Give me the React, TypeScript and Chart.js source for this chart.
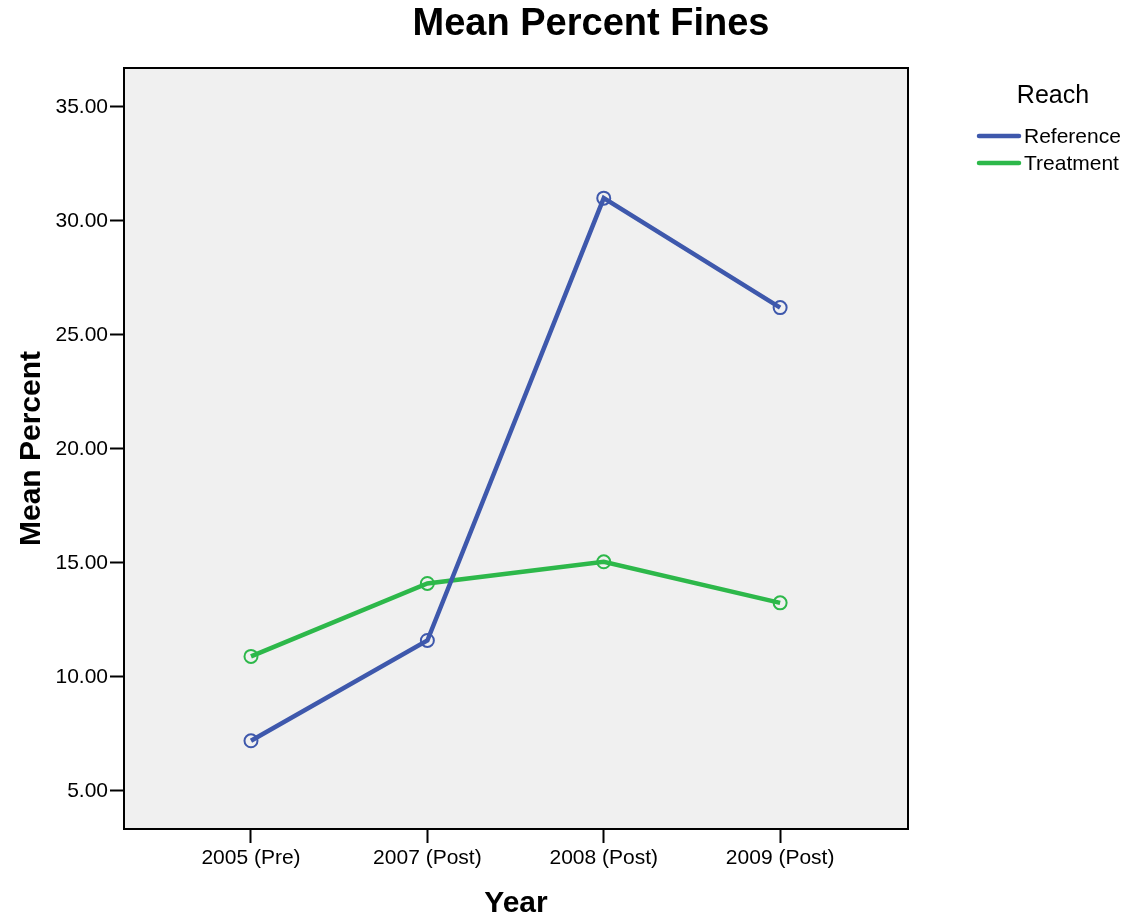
import React, { useEffect, useRef } from "react";
import { Chart, registerables } from "chart.js";

Chart.register(...registerables);

const categories = ["2005 (Pre)", "2007 (Post)", "2008 (Post)", "2009 (Post)"];
const referenceValues = [7.2, 11.6, 31.0, 26.2];
const treatmentValues = [10.9, 14.1, 15.05, 13.25];
const yTicks = [5, 10, 15, 20, 25, 30, 35];
const seriesNames = ["Reference", "Treatment"];
const legendTitle = "Reach";
const chartTitle = "Mean Percent Fines";
const xTitle = "Year";
const yTitle = "Mean Percent";

const BLUE = "#3e58ac";
const GREEN = "#2db84a";
const FONT = "'Liberation Sans', Arial, sans-serif";

const decorPlugin = {
  id: "decor",
  beforeDraw(chart: any) {
    const { ctx, chartArea } = chart;
    ctx.save();
    ctx.fillStyle = "#ffffff";
    ctx.fillRect(0, 0, chart.width, chart.height);
    ctx.fillStyle = "#f0f0f0";
    ctx.fillRect(chartArea.left, chartArea.top, chartArea.right - chartArea.left, chartArea.bottom - chartArea.top);
    ctx.restore();
  },
  afterDraw(chart: any) {
    const { ctx, chartArea } = chart;
    ctx.save();
    ctx.strokeStyle = "#000";
    ctx.lineWidth = 2;
    ctx.strokeRect(chartArea.left, chartArea.top, chartArea.right - chartArea.left, chartArea.bottom - chartArea.top);

    ctx.fillStyle = "#000";
    ctx.textAlign = "center";
    ctx.textBaseline = "middle";
    ctx.font = `bold 38px ${FONT}`;
    ctx.fillText(chartTitle, 591, 25);

    ctx.font = `bold 30px ${FONT}`;
    ctx.fillText(xTitle, (chartArea.left + chartArea.right) / 2, 904);
    ctx.save();
    ctx.translate(32, (chartArea.top + chartArea.bottom) / 2);
    ctx.rotate(-Math.PI / 2);
    ctx.fillText(yTitle, 0, 0);
    ctx.restore();

    // legend
    ctx.font = `25px ${FONT}`;
    ctx.fillText(legendTitle, 1053, 96);
    ctx.textAlign = "left";
    ctx.font = `21px ${FONT}`;
    chart.data.datasets.forEach((ds: any, i: number) => {
      const y = 136 + i * 27;
      ctx.strokeStyle = ds.borderColor;
      ctx.lineWidth = 4.5;
      ctx.lineCap = "round";
      ctx.beginPath();
      ctx.moveTo(979, y);
      ctx.lineTo(1019, y);
      ctx.stroke();
      ctx.fillStyle = "#000";
      ctx.fillText(ds.label, 1024, y + 1);
    });
    ctx.restore();
  },
};

export default function App() {
  const ref = useRef<HTMLCanvasElement>(null);
  useEffect(() => {
    if (!ref.current) return;
    const chart = new Chart(ref.current, {
      type: "line",
      data: {
        datasets: [
          {
            label: seriesNames[0],
            data: referenceValues.map((v, i) => ({ x: i, y: v })),
            borderColor: BLUE,
            backgroundColor: "transparent",
            borderWidth: 4.5,
            pointRadius: 6.5,
            pointBorderWidth: 2,
            pointBorderColor: BLUE,
            pointBackgroundColor: "transparent",
            tension: 0,
          },
          {
            label: seriesNames[1],
            data: treatmentValues.map((v, i) => ({ x: i, y: v })),
            borderColor: GREEN,
            backgroundColor: "transparent",
            borderWidth: 4.5,
            pointRadius: 6.5,
            pointBorderWidth: 2,
            pointBorderColor: GREEN,
            pointBackgroundColor: "transparent",
            tension: 0,
          },
        ],
      },
      options: {
        responsive: false,
        animation: false,
        layout: { padding: { left: 0, top: 68, right: 223, bottom: 0 } },
        plugins: { legend: { display: false }, title: { display: false }, tooltip: { enabled: false } },
        scales: {
          x: {
            type: "linear",
            min: -0.72,
            max: 3.725,
            afterBuildTicks: (scale: any) => {
              scale.ticks = categories.map((_, i) => ({ value: i }));
            },
            afterFit: (scale: any) => {
              scale.height = 92;
            },
            grid: { drawOnChartArea: false, drawTicks: true, tickLength: 14, tickWidth: 2, tickColor: "#000" },
            border: { display: false },
            ticks: {
              autoSkip: false,
              maxRotation: 0,
              padding: 3,
              color: "#000",
              font: { family: FONT, size: 21 },
              callback: (v: any) => categories[v as number] ?? "",
            },
          },
          y: {
            type: "linear",
            min: 3.33,
            max: 36.71,
            afterBuildTicks: (scale: any) => {
              scale.ticks = yTicks.map((v) => ({ value: v }));
            },
            afterFit: (scale: any) => {
              scale.width = 124;
            },
            grid: { drawOnChartArea: false, drawTicks: true, tickLength: 14, tickWidth: 2, tickColor: "#000" },
            border: { display: false },
            ticks: {
              padding: 2,
              color: "#000",
              font: { family: FONT, size: 21 },
              callback: (v: any) => Number(v).toFixed(2),
            },
          },
        },
      },
      plugins: [decorPlugin],
    });
    return () => chart.destroy();
  }, []);
  return (
    <div style={{ position: "absolute", left: 0, top: 0, width: 1131, height: 921 }}>
      <canvas ref={ref} width={1131} height={921} />
    </div>
  );
}
